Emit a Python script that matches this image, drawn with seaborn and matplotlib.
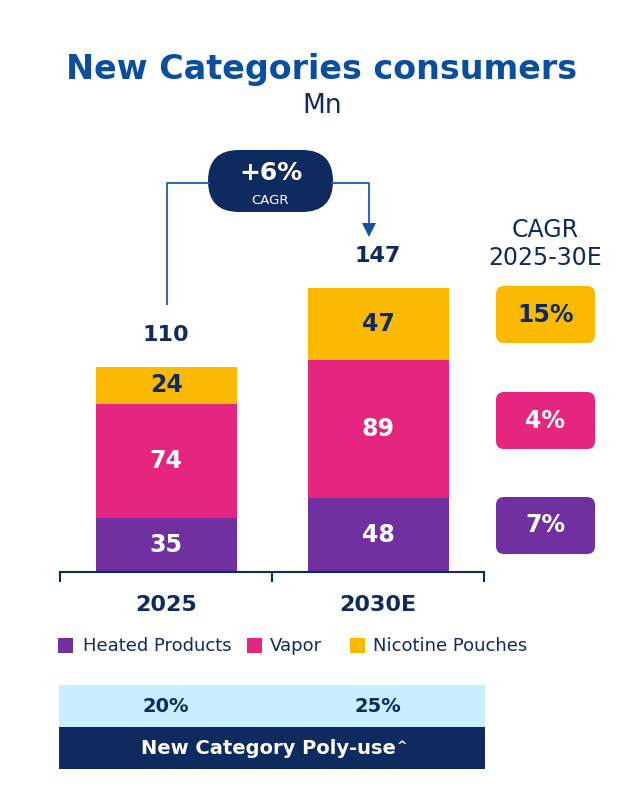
import matplotlib
matplotlib.use("Agg")
import matplotlib.pyplot as plt
import seaborn as sns
import pandas as pd
from matplotlib.patches import FancyBboxPatch, Rectangle, Polygon

# ---- data ----
years = ["2025", "2030E"]
heated = [35, 48]
vapor = [74, 89]
pouches = [24, 47]
totals = [110, 147]
segment_names = ["Heated Products", "Vapor", "Nicotine Pouches"]
segment_cagr = ["7%", "4%", "15%"]      # heated, vapor, pouches
overall_cagr = "+6%"
poly_use = ["20%", "25%"]

PURPLE = "#7030A0"
PINK = "#E6267E"
YELLOW = "#FBB900"
NAVY = "#0F2A5F"
LINEBLUE = "#1F5BA8"
TITLEBLUE = "#0A4E9E"
LIGHT = "#C8EEFF"

sns.set_theme(style="white")
plt.rcParams['font.family'] = ['DejaVu Sans']

W, H = 637, 793
fig = plt.figure(figsize=(W / 100, H / 100), dpi=100)


def fx(px):
    return px / W


def fy(py):
    return 1 - py / H


PT = 0.72  # points per pixel at 100 dpi

# ---- main bar axes ----
px_per_unit = 1.545
ax_top = 140
ax = fig.add_axes([fx(60), fy(572), fx(484) - fx(60), (572 - ax_top) / H])
ymax = (572 - ax_top) / px_per_unit

df = pd.DataFrame({"year": years, "heated": heated, "vapor": vapor, "pouches": pouches})
df["hv"] = df["heated"] + df["vapor"]
df["all"] = df["hv"] + df["pouches"]

bw = 141 / 212
for col, c in [("all", YELLOW), ("hv", PINK), ("heated", PURPLE)]:
    sns.barplot(data=df, x="year", y=col, color=c, width=bw, ax=ax,
                saturation=1, errorbar=None, edgecolor="none", linewidth=0)

ax.set_xlim(-0.5, 1.5)
ax.set_ylim(0, ymax)
ax.set_facecolor("none")
for s in ["left", "top", "right"]:
    ax.spines[s].set_visible(False)
ax.spines["bottom"].set_color(NAVY)
ax.spines["bottom"].set_linewidth(1.5)
ax.set_xticks([-0.5, 0.5, 1.5])
ax.set_xticklabels(["", "", ""])
ax.tick_params(axis="x", length=7, width=1.5, color=NAVY, direction="out", bottom=True)
ax.set_yticks([])
ax.set_xlabel("")
ax.set_ylabel("")

for i in range(len(years)):
    h, v, p = heated[i], vapor[i], pouches[i]
    ax.text(i, h / 2, str(h), ha="center", va="center", color="white",
            fontsize=17, fontweight="bold")
    ax.text(i, h + v / 2, str(v), ha="center", va="center", color="white",
            fontsize=17, fontweight="bold")
    ax.text(i, h + v + p / 2, str(p), ha="center", va="center", color=NAVY,
            fontsize=17, fontweight="bold")
    ax.annotate(str(totals[i]), (i, h + v + p), xytext=(0, 32 * PT),
                textcoords="offset points", ha="center", va="center",
                color=NAVY, fontsize=16, fontweight="bold")
    ax.annotate(years[i], (i, 0), xytext=(0, -33 * PT), textcoords="offset points",
                ha="center", va="center", color=NAVY, fontsize=16, fontweight="bold",
                annotation_clip=False)

# ---- overlay in pixel coordinates ----
ov = fig.add_axes([0, 0, 1, 1], zorder=5)
ov.set_xlim(0, W)
ov.set_ylim(H, 0)
ov.axis("off")
ov.set_facecolor("none")

ov.text(322, 70, "New Categories consumers", ha="center", va="center",
        color=TITLEBLUE, fontsize=24, fontweight="bold")
ov.text(322, 106, "Mn", ha="center", va="center", color=NAVY, fontsize=19)

# bracket + arrow
ov.plot([167, 167, 210], [305, 183, 183], color=LINEBLUE, lw=1.3, solid_capstyle="butt")
ov.plot([331, 369, 369], [183, 183, 224], color=LINEBLUE, lw=1.3, solid_capstyle="butt")
ov.add_patch(Polygon([[362, 223], [376, 223], [369, 237]], closed=True,
                     facecolor="#1552A0", edgecolor="none"))
ov.add_patch(FancyBboxPatch((208, 150), 125, 62, boxstyle="round,pad=0,rounding_size=31",
                            facecolor=NAVY, edgecolor="none"))
ov.text(270.5, 173, overall_cagr, ha="center", va="center", color="white",
        fontsize=18, fontweight="bold")
ov.text(270.5, 200, "CAGR", ha="center", va="center", color="white", fontsize=9.5)

# CAGR column
ov.text(545, 230, "CAGR", ha="center", va="center", color=NAVY, fontsize=17)
ov.text(545, 258, "2025-30E", ha="center", va="center", color=NAVY, fontsize=17)
box_specs = [(286, YELLOW, segment_cagr[2], NAVY),
             (392, PINK, segment_cagr[1], "white"),
             (497, PURPLE, segment_cagr[0], "white")]
for top, c, lab, tc in box_specs:
    ov.add_patch(FancyBboxPatch((496, top), 99, 57, boxstyle="round,pad=0,rounding_size=8",
                                facecolor=c, edgecolor="none"))
    ov.text(545.5, top + 28.5, lab, ha="center", va="center", color=tc,
            fontsize=17, fontweight="bold")

# legend
leg_items = [(58, 83, PURPLE, segment_names[0]),
             (247, 270, PINK, segment_names[1]),
             (350, 373, YELLOW, segment_names[2])]
for sx, tx, c, lab in leg_items:
    ov.add_patch(Rectangle((sx, 638), 15, 15, facecolor=c, edgecolor="none"))
    ov.text(tx, 646, lab, ha="left", va="center", color=NAVY, fontsize=13)

# poly-use table
ov.add_patch(Rectangle((59, 685), 426, 42, facecolor=LIGHT, edgecolor="none"))
ov.add_patch(Rectangle((59, 727), 426, 42, facecolor=NAVY, edgecolor="none"))
for cx, lab in zip([166, 378], poly_use):
    ov.text(cx, 706, lab, ha="center", va="center", color=NAVY, fontsize=14, fontweight="bold")
t = ov.text(268, 748, "New Category Poly-use", ha="center", va="center", color="white",
            fontsize=14, fontweight="bold")
ov.annotate("^", xy=(1, 1), xycoords=t, xytext=(1, -1), textcoords="offset points",
            ha="left", va="top", color="white", fontsize=9, fontweight="bold")

fig.savefig("out.png", dpi=100)
